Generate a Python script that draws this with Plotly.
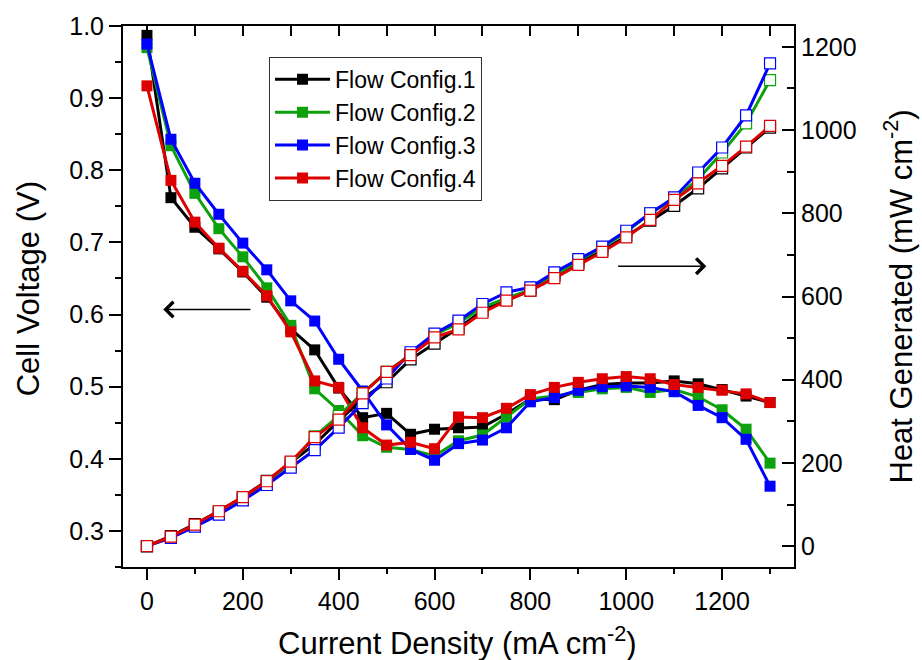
import plotly.graph_objects as go

current = [0, 50, 100, 150, 200, 250, 300, 350, 400, 450, 500, 550, 600, 650,
           700, 750, 800, 850, 900, 950, 1000, 1050, 1100, 1150, 1200, 1250, 1300]

series_names = ["Flow Config.1", "Flow Config.2", "Flow Config.3", "Flow Config.4"]
series_colors = ["#000000", "#0DA10D", "#0000FF", "#DD0000"]

voltage_1 = [0.987, 0.762, 0.721, 0.691, 0.659, 0.624, 0.580, 0.551, 0.498, 0.457, 0.463, 0.434, 0.441, 0.443,
             0.444, 0.462, 0.483, 0.482, 0.495, 0.503, 0.505, 0.505, 0.508, 0.504, 0.496, 0.487, 0.478]
voltage_2 = [0.970, 0.834, 0.768, 0.719, 0.680, 0.637, 0.585, 0.497, 0.467, 0.432, 0.416, 0.413, 0.404, 0.425,
             0.433, 0.458, 0.483, 0.487, 0.492, 0.497, 0.499, 0.492, 0.496, 0.486, 0.468, 0.441, 0.394]
voltage_3 = [0.975, 0.843, 0.782, 0.739, 0.699, 0.662, 0.619, 0.591, 0.538, 0.494, 0.447, 0.413, 0.398, 0.421,
             0.426, 0.443, 0.479, 0.485, 0.495, 0.500, 0.501, 0.499, 0.493, 0.474, 0.457, 0.427, 0.362]
voltage_4 = [0.917, 0.786, 0.728, 0.692, 0.660, 0.626, 0.576, 0.508, 0.499, 0.443, 0.419, 0.423, 0.414, 0.458,
             0.457, 0.470, 0.489, 0.499, 0.506, 0.511, 0.514, 0.511, 0.503, 0.499, 0.495, 0.490, 0.478]

heat_1 = [0, 24, 53, 84, 118, 157, 201, 245, 301, 355, 394, 449, 487, 524,
          566, 592, 614, 652, 680, 710, 745, 782, 818, 860, 908, 958, 1006]
heat_2 = [0, 21, 48, 80, 114, 153, 199, 264, 313, 368, 419, 460, 508, 536,
          574, 596, 616, 650, 686, 718, 755, 800, 834, 882, 946, 1016, 1120]
heat_3 = [0, 20, 47, 76, 110, 147, 189, 231, 285, 344, 403, 466, 511, 542,
          582, 610, 622, 658, 690, 720, 758, 800, 838, 898, 958, 1035, 1160]
heat_4 = [0, 23, 52, 84, 118, 156, 203, 262, 304, 367, 419, 459, 502, 521,
          561, 590, 614, 644, 676, 707, 742, 784, 832, 872, 914, 960, 1010]

x_title = "Current Density (mA cm<sup>-2</sup>)"
y_title = "Cell Voltage (V)"
y2_title = "Heat Generated (mW cm<sup>-2</sup>)"

voltages = [voltage_1, voltage_2, voltage_3, voltage_4]
heats = [heat_1, heat_2, heat_3, heat_4]

FONT = "Liberation Sans, Arial, sans-serif"

fig = go.Figure()

for name, color, v in zip(series_names, series_colors, voltages):
    fig.add_trace(go.Scatter(
        x=current, y=v, name=name, mode="lines+markers",
        line=dict(color=color, width=3),
        marker=dict(symbol="square", size=11, color=color, line=dict(width=0)),
        xaxis="x", yaxis="y",
    ))

for name, color, h in zip(series_names, series_colors, heats):
    fig.add_trace(go.Scatter(
        x=current, y=h, name=name, mode="lines+markers", showlegend=False,
        line=dict(color=color, width=3),
        marker=dict(symbol="square", size=11, color="white", line=dict(width=1.2, color=color)),
        xaxis="x", yaxis="y2",
    ))

# dummy trace so the top mirror axis is rendered
fig.add_trace(go.Scatter(x=[], y=[], xaxis="x2", yaxis="y", showlegend=False, hoverinfo="skip"))

fig.add_annotation(x=34, y=0.607, ax=219, ay=0.607, xref="x", yref="y", axref="x", ayref="y",
                   text="", showarrow=True, arrowhead=4, arrowsize=2, arrowwidth=1.5, arrowcolor="black")
fig.add_annotation(x=1167, y=0.667, ax=980, ay=0.667, xref="x", yref="y", axref="x", ayref="y",
                   text="", showarrow=True, arrowhead=4, arrowsize=2, arrowwidth=1.5, arrowcolor="black")

tickfont = dict(family=FONT, size=25, color="black")
titlefont = dict(family=FONT, size=31, color="black")

# axis titles as annotations (paper coordinates)
fig.add_annotation(text=x_title, x=0.498, y=-0.136, xref="paper", yref="paper",
                   xanchor="center", yanchor="middle", showarrow=False, font=titlefont)
fig.add_annotation(text=y_title, x=-0.1416, y=0.515, xref="paper", yref="paper", textangle=-90,
                   xanchor="center", yanchor="middle", showarrow=False, font=titlefont)
fig.add_annotation(text=y2_title, x=1.155, y=0.5, xref="paper", yref="paper", textangle=-90,
                   xanchor="center", yanchor="middle", showarrow=False, font=titlefont)

fig.update_layout(
    width=922, height=660,
    margin=dict(l=123, r=128, t=26, b=93),
    paper_bgcolor="white", plot_bgcolor="white",
    font=dict(family=FONT, color="black"),
    xaxis=dict(
        range=[-50, 1350], dtick=200, tick0=0, showgrid=False, zeroline=False, automargin=False,
        showline=True, linecolor="black", linewidth=2,
        ticks="outside", ticklen=11, tickwidth=2, tickcolor="black",
        minor=dict(dtick=100, ticklen=5, tickwidth=2, tickcolor="black", ticks="outside"),
        tickfont=tickfont,
    ),
    xaxis2=dict(
        range=[-50, 1350], dtick=100, tick0=0, overlaying="x", side="top", anchor="y", automargin=False,
        showgrid=False, zeroline=False, showline=True, linecolor="black", linewidth=2,
        ticks="inside", ticklen=10, tickwidth=2, tickcolor="black", showticklabels=False,
    ),
    yaxis=dict(
        range=[0.25, 1.0], dtick=0.1, tick0=0, tickformat=".1f", showgrid=False, zeroline=False,
        automargin=False, showline=True, linecolor="black", linewidth=2,
        ticks="outside", ticklen=12, tickwidth=2, tickcolor="black",
        minor=dict(dtick=0.05, ticklen=6, tickwidth=2, tickcolor="black", ticks="outside"),
        tickfont=tickfont,
    ),
    yaxis2=dict(
        range=[-50, 1250], dtick=200, tick0=0, overlaying="y", side="right", anchor="x",
        automargin=False, showgrid=False, zeroline=False, showline=True, linecolor="black", linewidth=2,
        ticks="inside", ticklen=12, tickwidth=2, tickcolor="black",
        minor=dict(dtick=100, ticklen=7, tickwidth=2, tickcolor="black", ticks="inside"),
        tickfont=tickfont,
    ),
    legend=dict(
        x=0.2176, y=0.943, xanchor="left", yanchor="top",
        bgcolor="white", bordercolor="#333333", borderwidth=1,
        font=dict(family=FONT, size=23, color="black"),
        itemwidth=55,
    ),
    showlegend=True,
)

fig.write_html("out.html")
